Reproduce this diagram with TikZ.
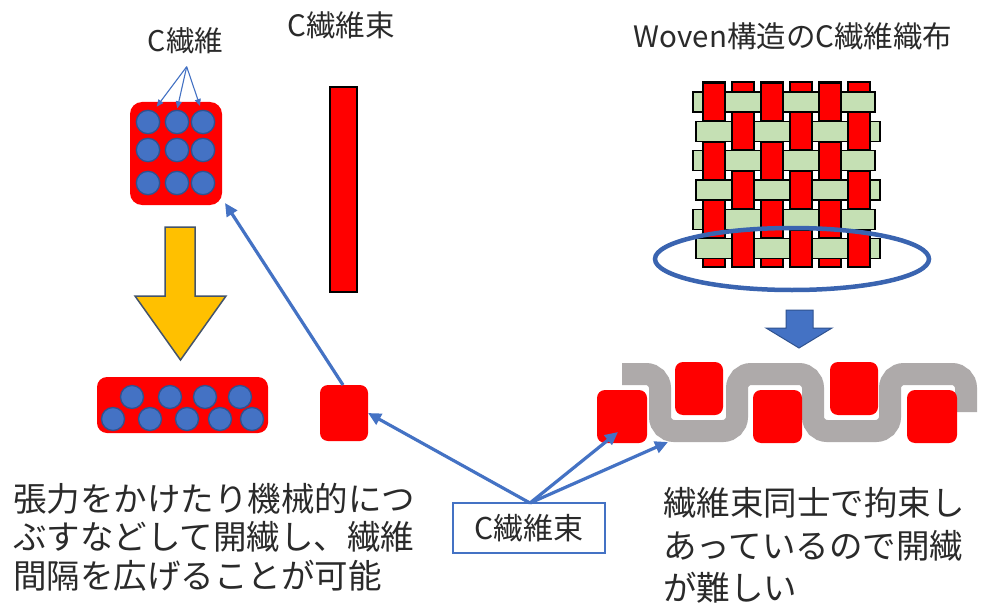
\documentclass[tikz,border=0pt]{standalone}
\usepackage{fontspec}
\setmainfont{Noto Sans CJK JP}
\usetikzlibrary{arrows.meta,shapes.geometric}
\definecolor{myblue}{HTML}{4472C4}
\definecolor{mydarkblue}{HTML}{2F528F}
\definecolor{mygreen}{HTML}{C5E0B4}
\definecolor{myyellow}{HTML}{FFC000}
\definecolor{myslate}{HTML}{44546A}
\definecolor{mygray}{HTML}{AEAAAA}
\definecolor{mytext}{HTML}{2A2A2A}
\definecolor{ellblue}{HTML}{3A64B0}
\tikzset{
  bluearrow/.style={draw=myblue, line width=3.2pt, -{Triangle[length=13pt,width=12pt]}},
  thinarrow/.style={draw=myblue, line width=1.1pt, -{Triangle[length=7pt,width=6pt]}},
  redblk/.style={fill=red, draw=black, line width=1.3pt},
  greenblk/.style={fill=mygreen, draw=black, line width=1.3pt},
  fibre/.style={circle, fill=myblue, draw=mydarkblue, line width=1.3pt, minimum size=23.4pt, inner sep=0pt},
  redround/.style={rectangle, fill=red, rounded corners=8pt, inner sep=0pt},
  txt/.style={text=mytext, inner sep=0pt},
}
\begin{document}
\begin{tikzpicture}[x=1pt,y=-1pt]
\useasboundingbox[fill=white] (0,0) rectangle (984,604);

% ---------- top-left: fibre bundle cross-section ----------
\node[redround, rounded corners=12pt, minimum width=92pt, minimum height=103pt] (fb) at (176,153.5) {};
\foreach \cx [count=\i] in {148,177,203}{
  \foreach \cy [count=\j] in {122,150,183}{
    \node[fibre] (f\i\j) at (\cx,\cy) {};
  }
}
\node[txt, font=\fontsize{28.5}{34}\selectfont, anchor=base] (lblfiber) at (185.5,52) {C繊維};
\coordinate (apex) at (186.7,66.7);
\coordinate (e1) at (156.7,106.7);
\coordinate (e2) at (177.3,108.3);
\coordinate (e3) at (200,106);
\draw[thinarrow] (apex) -- (e1);
\draw[thinarrow] (apex) -- (e2);
\draw[thinarrow] (apex) -- (e3);

% yellow arrow
\draw[fill=myyellow, draw=myslate, line width=1.5pt, line join=miter]
  (165,227) -- (195,227) -- (195,296) -- (226,296) -- (180.5,360) -- (135,296) -- (165,296) -- cycle;

% flattened bundle
\node[redround, rounded corners=10pt, minimum width=171pt, minimum height=56pt] (flat) at (182.5,405) {};
\foreach \cx [count=\i] in {132,170,205,240}{
  \node[fibre, minimum size=23pt] (ft\i) at (\cx,397) {};
}
\foreach \cx [count=\i] in {113,150,187,220,252}{
  \node[fibre, minimum size=23pt] (fl\i) at (\cx,419) {};
}

% ---------- middle: C fibre tow ----------
\node[txt, font=\fontsize{29.5}{35}\selectfont, anchor=base] (lbltow) at (341,37) {C繊維束};
\node[redblk, rectangle, minimum width=27pt, minimum height=205pt, inner sep=0pt] (tow) at (343.5,189.5) {};
\node[redround, minimum width=48pt, minimum height=56pt] (sq) at (344,413) {};

% ---------- right: woven fabric ----------
\node[txt, font=\fontsize{29.5}{35}\selectfont, anchor=base] (lblwoven) at (793,48) {Woven構造のC繊維織布};
% full warp strips
\foreach \c in {0,...,5}{
  \pgfmathsetmacro{\xl}{703+29*\c}
  \draw[redblk] (\xl,82) rectangle ++(22,185);
}
% weft strips
\foreach \r in {0,...,5}{
  \pgfmathsetmacro{\yt}{92+29.3*\r}
  \pgfmathsetmacro{\xa}{mod(\r,2)==0 ? 693 : 696}
  \pgfmathsetmacro{\xb}{mod(\r,2)==0 ? 875 : 880}
  \draw[greenblk] (\xa,\yt) rectangle (\xb,\yt+20);
}
% warp over weft
\foreach \r in {0,...,5}{
  \foreach \c in {0,...,5}{
    \pgfmathtruncatemacro{\odd}{mod(\r+\c,2)}
    \ifnum\odd=0
      \pgfmathsetmacro{\yt}{92+29.3*\r}
      \pgfmathsetmacro{\xl}{703+29*\c}
      \pgfmathsetmacro{\ya}{max(82,\yt-8.6)}
      \pgfmathsetmacro{\yb}{min(267,\yt+28.6)}
      \draw[redblk] (\xl,\ya) rectangle (\xl+22,\yb);
    \fi
  }
}
\node[draw=ellblue, line width=4.5pt, ellipse, minimum width=274pt, minimum height=62pt, inner sep=0pt] (ell) at (792,259) {};

% blue block arrow
\draw[fill=myblue, draw=mydarkblue, line width=1pt, line join=miter]
  (786,310) -- (813,310) -- (813,328) -- (832,328) -- (799,348) -- (766,328) -- (786,328) -- cycle;

% cross-section of weave
\draw[mygray, line width=22pt, rounded corners=14pt]
  (622,374) -- (660,374) -- (660,431) -- (737,431) -- (737,374) -- (813,374)
  -- (813,431) -- (890,431) -- (890,374) -- (966,374) -- (966,412);
\node[redround, minimum width=50pt, minimum height=53pt] (w1) at (622,416.5) {};
\node[redround, minimum width=48pt, minimum height=53pt] (w2) at (699,388.5) {};
\node[redround, minimum width=49pt, minimum height=53pt] (w3) at (777.5,416.5) {};
\node[redround, minimum width=48pt, minimum height=53pt] (w4) at (854,388.5) {};
\node[redround, minimum width=50pt, minimum height=53pt] (w5) at (932,416.5) {};

% ---------- label box and arrows ----------
\node[draw=myblue, line width=1.3pt, rectangle, minimum width=152pt, minimum height=50pt, inner sep=0pt,
      text=mytext, font=\fontsize{30}{36}\selectfont] (lbl) at (529,528) {C繊維束};
\coordinate (lbltop) at (530,503);
\coordinate (sqtop) at (343,385);
\coordinate (sqright) at (368,413);
\coordinate (fbcorner) at (225,203);
\coordinate (wt1) at (618,432);
\coordinate (wt2) at (668,442);
\draw[bluearrow] (lbltop) -- (sqright);
\draw[bluearrow] (sqtop) -- (fbcorner);
\draw[bluearrow] (lbltop) -- (wt1);
\draw[bluearrow] (lbltop) -- (wt2);

% ---------- bottom texts ----------
\begin{scope}[every node/.style={txt, anchor=base west, font=\fontsize{33.5}{40}\selectfont}]
\node (l1) at (13,511) {張力をかけたり機械的につ};
\node (l2) at (13,549.5) {ぶすなどして開繊し、繊維};
\node (l3) at (13,588) {間隔を広げることが可能};
\end{scope}
\begin{scope}[every node/.style={txt, anchor=base west, font=\fontsize{33.5}{40}\selectfont}]
\node (r1) at (663,515) {繊維束同士で拘束し};
\node (r2) at (663,558) {あっているので開繊};
\node (r3) at (663,600) {が難しい};
\end{scope}
\end{tikzpicture}
\end{document}
